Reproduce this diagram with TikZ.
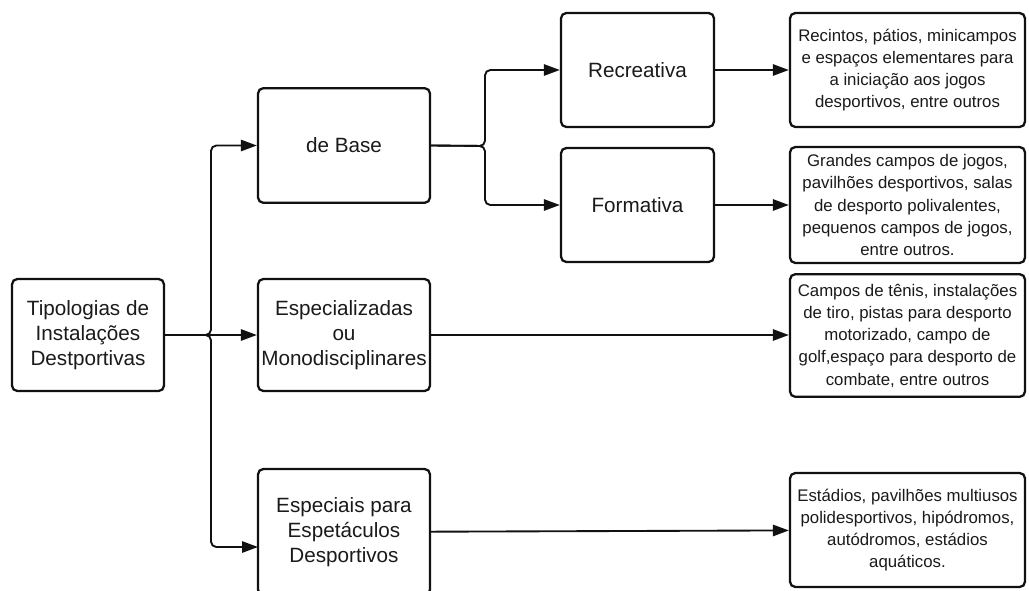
\documentclass[tikz,border=0pt]{standalone}
\usepackage{fontspec}
\setmainfont{Liberation Sans}
\usetikzlibrary{arrows.meta,positioning}
\definecolor{tpLine}{HTML}{111111}
\definecolor{tpText}{HTML}{1A1A1A}
\tikzset{
  tp/.style={line width=1.4pt, >={Triangle[length=12pt, width=8.5pt]}},
  box/.style={draw=tpLine, fill=white, line width=1.7pt, rounded corners=4pt, align=center, inner sep=1pt, text=tpText, font=\fontsize{15.5}{18.75}\selectfont},
  root/.style={box, minimum width=114pt, minimum height=84pt},
  mid/.style={box, minimum width=129pt, minimum height=86pt},
  sub/.style={box, minimum width=114.75pt, minimum height=85.5pt},
  leaf/.style={box, minimum width=176.25pt, minimum height=85.5pt, font=\fontsize{12.6}{16.7}\selectfont},
  flow/.style={->, draw=tpLine, line width=1.4pt, rounded corners=4pt},
}

\begin{document}
\begin{tikzpicture}[tp, x=0.75pt, y=-0.75pt]
\useasboundingbox (0,0) rectangle (1029,590);
% raiz
\node[root] (tipo) at (88,335) {Tipologias de\\Instalações\\Destportivas};
% coluna 2
\node[mid] (base) at (344,145.5) {de Base};
\node[mid, minimum height=84pt] (espec) at (344,335) {Especializadas\\ou\\Monodisciplinares};
\node[mid, minimum height=94.5pt] (espet) at (344,532) {Especiais para\\Espetáculos\\Desportivos};
% coluna 3
\node[sub] (recr) at (637.5,70) {Recreativa};
\node[sub] (form) at (637.5,205) {Formativa};
% coluna 4: exemplos
\node[leaf] (exRecr) at (907.5,70) {Recintos, pátios, minicampos\\e espaços elementares para\\a iniciação aos jogos\\desportivos, entre outros};
\node[leaf, minimum height=87pt] (exForm) at (907.5,205) {Grandes campos de jogos,\\pavilhões desportivos, salas\\de desporto polivalentes,\\pequenos campos de jogos,\\entre outros.};
\node[leaf, minimum height=92pt] (exEspec) at (907.5,335.5) {Campos de tênis, instalações\\de tiro, pistas para desporto\\motorizado, campo de\\golf,espaço para desporto de\\combate, entre outros};
\node[leaf] (exEspet) at (907.5,530) {Estádios, pavilhões multiusos\\polidesportivos, hipódromos,\\autódromos, estádios\\aquáticos.};

\coordinate (split) at (211,335);
\coordinate (bsplit) at (485,146);
\coordinate (espetIn) at (258,547);

\draw[flow] (tipo.east) -- (split) |- (base.west);
\draw[flow] (tipo.east) -- (espec.west);
\draw[flow] (tipo.east) -- (split) |- (espetIn);
\draw[flow] (base.east) -- (bsplit) |- (recr.west);
\draw[flow] (base.east) -- (bsplit) |- (form.west);
\draw[flow] (recr) -- (exRecr);
\draw[flow] (form) -- (exForm);
\draw[flow] (espec.east) -- (espec.east -| exEspec.west);
\draw[flow] (espet) -- (exEspet);
\end{tikzpicture}
\end{document}
